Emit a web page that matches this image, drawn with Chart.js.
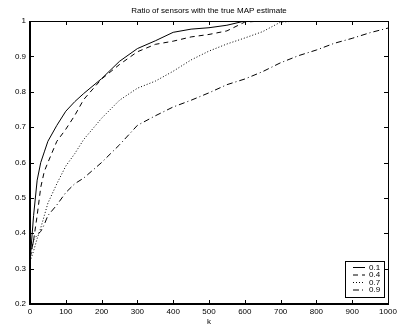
<!DOCTYPE html>
<html>
<head>
    <title>Ratio of sensors with the true MAP estimate</title>
    <meta charset="utf-8" />
    <script src="https://cdn.jsdelivr.net/npm/chart.js@4.4.1/dist/chart.umd.min.js"></script>
    <style>
        html, body { margin: 0; padding: 0; background: #fff; }
        .chart-container { width: 401px; height: 330px; }
    </style>
</head>
<body>
    <div class="chart-container"><canvas id="chart"></canvas></div>

    <script>
        // values
        const kSteps = [0, 10, 20, 30, 40, 50, 75, 100, 125, 150, 200, 250, 300, 350, 400,
                        450, 500, 550, 600, 650, 700, 750, 800, 850, 900, 950, 1000];
        const ratio01 = [0.32, 0.45, 0.55, 0.60, 0.63, 0.66, 0.705, 0.745, 0.772, 0.795, 0.837, 0.886, 0.922, 0.944, 0.968,
                         0.977, 0.981, 0.988, 1, 1, 1, 1, 1, 1, 1, 1, 1];
        const ratio04 = [0.33, 0.38, 0.45, 0.53, 0.575, 0.60, 0.66, 0.694, 0.733, 0.778, 0.836, 0.877, 0.913, 0.934, 0.943,
                         0.955, 0.962, 0.972, 0.997, 1, 1, 1, 1, 1, 1, 1, 1];
        const ratio07 = [0.32, 0.35, 0.385, 0.415, 0.45, 0.485, 0.54, 0.59, 0.625, 0.665, 0.725, 0.776, 0.81, 0.83, 0.858,
                         0.89, 0.915, 0.935, 0.952, 0.97, 0.997, 1, 1, 1, 1, 1, 1];
        const ratio09 = [0.33, 0.38, 0.395, 0.405, 0.425, 0.45, 0.48, 0.515, 0.54, 0.556, 0.60, 0.65, 0.705, 0.732, 0.757,
                         0.776, 0.797, 0.82, 0.836, 0.857, 0.882, 0.902, 0.918, 0.937, 0.951, 0.967, 0.98];
        const seriesLabels = ['0.1', '0.4', '0.7', '0.9'];
        const seriesDash = [[], [5, 4], [1, 2], [6, 3, 1, 3]];
        const chartTitle = 'Ratio of sensors with the true MAP estimate';

        const font = 'Liberation Sans';

        function toPoints(values) {
            return kSteps.map((k, i) => ({ x: k, y: values[i] }));
        }

        // MATLAB style box: frame, inward ticks on all sides, title over the axes,
        // legend in the lower right
        const matlabBox = {
            id: 'matlabBox',
            afterDatasetsDraw(chart) {
                const ctx = chart.ctx;
                const a = chart.chartArea;
                const xs = chart.scales.x, ys = chart.scales.y;
                ctx.save();
                ctx.strokeStyle = '#000';
                ctx.lineWidth = 1;
                ctx.setLineDash([]);
                ctx.beginPath();
                xs.ticks.forEach(t => {
                    const px = Math.round(xs.getPixelForValue(t.value)) + 0.5;
                    ctx.moveTo(px, a.bottom); ctx.lineTo(px, a.bottom - 4);
                    ctx.moveTo(px, a.top); ctx.lineTo(px, a.top + 4);
                });
                ys.ticks.forEach(t => {
                    const py = Math.round(ys.getPixelForValue(t.value)) + 0.5;
                    ctx.moveTo(a.left, py); ctx.lineTo(a.left + 4, py);
                    ctx.moveTo(a.right, py); ctx.lineTo(a.right - 4, py);
                });
                ctx.stroke();
                ctx.strokeRect(a.left + 0.5, a.top + 0.5, a.right - a.left, a.bottom - a.top);
                ctx.lineWidth = 2;
                ctx.beginPath();
                ctx.moveTo(a.left, a.top);
                ctx.lineTo(a.left, a.bottom);
                ctx.lineTo(a.right, a.bottom);
                ctx.stroke();

                ctx.font = '8px "' + font + '"';
                ctx.fillStyle = '#000';
                ctx.textBaseline = 'middle';

                // title, centred on the axes
                ctx.textAlign = 'center';
                ctx.fillText(chartTitle, (a.left + a.right) / 2, 11);
                ctx.textAlign = 'left';

                // legend
                const w = 39, h = 36;
                const bx = a.right - 4 - w, by = a.bottom - 7 - h;
                ctx.fillStyle = '#fff';
                ctx.fillRect(bx, by, w, h);
                ctx.lineWidth = 1;
                ctx.strokeRect(bx + 0.5, by + 0.5, w, h);
                ctx.fillStyle = '#000';
                chart.data.datasets.forEach((ds, i) => {
                    const y = by + 6.5 + i * 7.5;
                    ctx.beginPath();
                    ctx.setLineDash(ds.borderDash);
                    ctx.lineWidth = 1;
                    ctx.moveTo(bx + 8, y);
                    ctx.lineTo(bx + 20, y);
                    ctx.stroke();
                    ctx.setLineDash([]);
                    ctx.fillText(ds.label, bx + 24, y);
                });
                ctx.restore();
            }
        };

        const ctx = document.getElementById('chart').getContext('2d');
        new Chart(ctx, {
            type: 'line',
            data: {
                datasets: [ratio01, ratio04, ratio07, ratio09].map((vals, i) => ({
                    label: seriesLabels[i],
                    data: toPoints(vals),
                    borderColor: '#000',
                    borderWidth: 1,
                    borderDash: seriesDash[i],
                    pointRadius: 0,
                    tension: 0,
                    fill: false
                }))
            },
            options: {
                responsive: true,
                maintainAspectRatio: false,
                animation: false,
                layout: { padding: { left: 0, right: 13, top: 21, bottom: 0 } },
                plugins: {
                    legend: { display: false },
                    tooltip: { enabled: false },
                    title: { display: false }
                },
                scales: {
                    x: {
                        type: 'linear',
                        min: 0,
                        max: 1000,
                        grid: { display: false, drawTicks: false },
                        border: { display: false },
                        ticks: { stepSize: 100, color: '#000', padding: 3, maxRotation: 0,
                                 font: { family: font, size: 8 },
                                 callback: v => String(v) },
                        title: { display: true, text: 'k', color: '#000',
                                 font: { family: font, size: 8 }, padding: { top: 0, bottom: 3 } },
                        afterFit(scale) { scale.height = 26; }
                    },
                    y: {
                        min: 0.2,
                        max: 1,
                        grid: { display: false, drawTicks: false },
                        border: { display: false },
                        ticks: { stepSize: 0.1, color: '#000', padding: 4,
                                 font: { family: font, size: 8 },
                                 callback: v => String(Number(v.toFixed(1))) },
                        afterFit(scale) { scale.width = 30; }
                    }
                }
            },
            plugins: [matlabBox]
        });
    </script>
</body>
</html>
